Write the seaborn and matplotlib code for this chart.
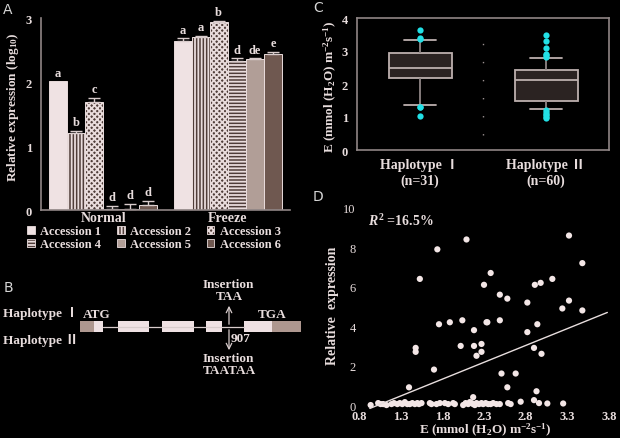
import numpy as np
import pandas as pd
import matplotlib
matplotlib.use("Agg")
import matplotlib.pyplot as plt
from matplotlib.patches import Rectangle, Patch
import seaborn as sns

# ---------------- data ----------------
# panel A: relative expression (log10)
conditions = ["Normal", "Freeze"]
accessions = ["Accession 1", "Accession 2", "Accession 3",
              "Accession 4", "Accession 5", "Accession 6"]
normal_expr = [2.01, 1.20, 1.68, 0.01, 0.02, 0.08]
freeze_expr = [2.64, 2.71, 2.93, 2.33, 2.36, 2.43]
normal_err = [0.0, 0.04, 0.07, 0.05, 0.07, 0.06]
freeze_err = [0.04, 0.01, 0.03, 0.04, 0.01, 0.035]
normal_letters = ["a", "b", "c", "d", "d", "d"]
freeze_letters = ["a", "a", "b", "d", "de", "e"]
acc_colors = ["#efe2e3", "#4f3d39", "#4f3d39", "#4f3d39", "#b19e97", "#6f5850"]
acc_hatches = ["", "|||||", "xxxxxx", "-----", "", ""]

# panel B: gene model (positions along the schematic)
utr_start = [80, 272]
utr_end = [94, 301]
exon_start = [94, 118, 162, 206, 244]
exon_end = [103, 149, 194, 222, 272]
insertion_pos = 229

# panel C: transpiration rate E per haplotype
hap1_E = [1.03, 1.30, 1.31, 1.35, 1.62, 1.85, 2.02, 2.17, 2.19, 2.25, 2.30,
          2.36, 2.40, 2.44, 2.48, 2.50, 2.55, 2.61, 2.66, 2.72, 2.80, 2.88,
          2.92, 2.94, 3.00, 3.10, 3.20, 3.32, 3.35, 3.40, 3.65]
hap2_E = [0.97, 1.00, 1.05, 1.10, 1.15, 1.20, 1.25, 1.28, 1.32, 1.36, 1.40,
          1.43, 1.46, 1.48, 1.50, 1.50, 1.55, 1.60, 1.65, 1.70, 1.75, 1.80,
          1.85, 1.90, 1.94, 1.98, 2.02, 2.06, 2.09, 2.12, 2.14, 2.16, 2.18,
          2.20, 2.22, 2.24, 2.26, 2.28, 2.30, 2.32, 2.35, 2.37, 2.39, 2.41,
          2.43, 2.43, 2.46, 2.50, 2.54, 2.58, 2.62, 2.67, 2.73, 2.80, 2.83,
          2.88, 2.92, 3.10, 3.30, 3.47]
hap_labels = ["Haplotype \u2160\n(n=31)", "Haplotype \u2161\n(n=60)"]

# panel D: E vs relative expression
scatter_E = [1.40, 1.48, 1.48, 1.53, 1.70, 1.74, 1.76, 1.89, 2.04, 2.02,
             2.09, 2.18, 2.18, 2.21, 2.27, 2.27, 2.30, 2.33, 2.34, 2.38,
             2.49, 2.49, 2.51, 2.58, 2.58, 2.68, 2.82, 2.82, 2.90, 2.91,
             2.93, 2.94, 2.98, 2.99, 3.12, 3.24, 3.32, 3.32, 3.48, 3.48,
             2.90, 2.17,
             0.94, 1.03, 1.06, 1.09, 1.13, 1.19, 1.22, 1.26, 1.29, 1.32,
             1.35, 1.38, 1.41, 1.44, 1.47, 1.50, 1.52, 1.55, 1.65, 1.67,
             1.73, 1.77, 1.83, 1.87, 1.93, 1.95, 2.05, 2.08, 2.11, 2.13,
             2.15, 2.17, 2.19, 2.21, 2.24, 2.27, 2.29, 2.32, 2.35, 2.38,
             2.41, 2.45, 2.49, 2.59, 2.62, 2.74, 2.96, 3.06, 3.25]
scatter_expr = [0.9, 2.9, 2.7, 6.4, 1.8, 7.9, 4.1, 4.2, 4.3, 3.0,
                8.4, 3.8, 3.0, 2.5, 3.1, 2.7, 6.1, 4.2, 4.2, 6.7,
                5.6, 4.3, 1.6, 5.4, 0.9, 1.6, 5.2, 3.7, 2.9, 6.1,
                0.7, 4.1, 6.2, 2.6, 6.4, 4.9, 8.6, 5.3, 7.2, 4.8,
                0.25, 0.4,
                0.0, 0.10, 0.05, 0.05, 0.0, 0.05, 0.10, 0.05, 0.10, 0.05,
                0.15, 0.05, 0.05, 0.10, 0.05, 0.10, 0.05, 0.10, 0.10, 0.05,
                0.05, 0.10, 0.10, 0.05, 0.10, 0.05, 0.0, 0.10, 0.05, 0.15,
                0.10, 0.05, 0.0, 0.10, 0.05, 0.10, 0.05, 0.10, 0.05, 0.05,
                0.10, 0.05, 0.05, 0.10, 0.05, 0.17, 0.10, 0.08, 0.08]

# ---------------- style ----------------
sns.set_style("dark", {"axes.facecolor": "black", "figure.facecolor": "black"})
TXT = "#e8dddd"
GRAY = "#8f8585"
plt.rcParams["font.family"] = ["Liberation Serif", "Noto Sans CJK SC"]
plt.rcParams["font.weight"] = "bold"
plt.rcParams["mathtext.fontset"] = "custom"
plt.rcParams["mathtext.rm"] = "Liberation Serif:bold"
plt.rcParams["mathtext.bf"] = "Liberation Serif:bold"
plt.rcParams["mathtext.it"] = "Liberation Serif:italic:bold"
plt.rcParams["text.color"] = TXT
plt.rcParams["hatch.linewidth"] = 1.3

fig = plt.figure(figsize=(6.2, 4.39), dpi=100, facecolor="black")
W, H = 620.0, 439.0


def px_axes(x0, y0, x1, y1):
    return fig.add_axes([x0 / W, 1 - y1 / H, (x1 - x0) / W, (y1 - y0) / H])


def style_ticks(ax, size=9):
    ax.tick_params(colors=GRAY, labelcolor=TXT, labelsize=size, length=3,
                   width=1, direction="out")
    for lab in ax.get_xticklabels() + ax.get_yticklabels():
        lab.set_fontweight("bold")


# ---------------- panel A ----------------
axA = px_axes(41, 19, 290, 211)
dfA = pd.DataFrame({
    "condition": np.repeat(conditions, len(accessions)),
    "accession": accessions * 2,
    "expr": normal_expr + freeze_expr,
})
sns.barplot(data=dfA, x="condition", y="expr", hue="accession",
            palette=acc_colors, saturation=1, width=0.87, gap=0,
            errorbar=None, edgecolor="#e9dcdc", linewidth=0.7,
            legend=False, ax=axA)
errs = [normal_err, freeze_err]
letters = [normal_letters, freeze_letters]
bar_containers = list(axA.containers)
for i, cont in enumerate(bar_containers):
    for j, bar in enumerate(cont.patches):
        bar.set_hatch(acc_hatches[i])
        xc = bar.get_x() + bar.get_width() / 2
        h = bar.get_height()
        e = errs[j][i]
        if e > 0:
            axA.errorbar(xc, h, yerr=[[0], [e]], color="#d9cccc", capsize=4,
                         elinewidth=1, capthick=1)
        axA.annotate(letters[j][i], (xc, h + e), xytext=(0, 2),
                     textcoords="offset points", ha="center", va="bottom",
                     fontsize=9, fontweight="bold", color=TXT)
axA.set_xlim(-0.5, 1.5)
axA.set_ylim(0, 3)
axA.set_yticks([0, 1, 2, 3])
axA.set_xlabel("")
axA.set_ylabel(r"Relative expression (log$_{10}$)", fontsize=9.5,
               fontweight="bold", color=TXT)
axA.yaxis.set_label_coords(-0.08, 0.54)
for s in ["top", "right"]:
    axA.spines[s].set_visible(False)
for s in ["left", "bottom"]:
    axA.spines[s].set_color(GRAY)
    axA.spines[s].set_linewidth(1.2)
axA.grid(False)
style_ticks(axA)
axA.tick_params(axis="x", labelsize=10, pad=-2)

handles = [Patch(facecolor=acc_colors[k], edgecolor="#e9dcdc",
                 hatch=acc_hatches[k], linewidth=0.6) for k in range(6)]
order = [0, 3, 1, 4, 2, 5]
fig.legend([handles[k] for k in order], [accessions[k] for k in order],
           ncol=3, loc="upper left", bbox_to_anchor=(16 / W, 1 - 215 / H),
           frameon=False, handlelength=0.6, handleheight=0.6,
           handletextpad=0.45, columnspacing=1.25, labelspacing=0.1,
           prop={"family": "Liberation Serif", "weight": "bold", "size": 9},
           labelcolor=TXT)

# ---------------- panel B ----------------
axB = px_axes(0, 270, 310, 400)
axB.set_xlim(0, 310)
axB.set_ylim(400, 270)
axB.axis("off")
axB.plot([exon_end[0], exon_start[-1]], [328, 328], color="#d8cccc", lw=0.9)
for a, b in zip(utr_start, utr_end):
    axB.add_patch(Rectangle((a, 322), b - a, 11, facecolor="#ae978f",
                            edgecolor="none"))
for a, b in zip(exon_start, exon_end):
    axB.add_patch(Rectangle((a, 322), b - a, 11, facecolor="#efe1e3",
                            edgecolor="none"))
axB.annotate("", xy=(insertion_pos, 304), xytext=(insertion_pos, 328),
             arrowprops=dict(arrowstyle="->", color="#d8cccc", lw=0.9))
axB.annotate("", xy=(insertion_pos, 354), xytext=(insertion_pos, 328),
             arrowprops=dict(arrowstyle="->", color="#d8cccc", lw=0.9))
tB = dict(fontsize=9.5, fontweight="bold", color=TXT, va="center")
axB.text(3, 314, "Haplotype \u2160", ha="left", **tB)
axB.text(3, 341, "Haplotype \u2161", ha="left", **tB)
axB.text(97, 315, "ATG", ha="center", **tB)
axB.text(272, 315, "TGA", ha="center", **tB)
axB.text(228, 285, "Insertion", ha="center", **tB)
axB.text(229, 297, "TAA", ha="center", **tB)
axB.text(231, 339, "907", ha="left", **tB)
axB.text(228, 359, "Insertion", ha="center", **tB)
axB.text(229, 371, "TAATAA", ha="center", **tB)

# ---------------- panel C ----------------
axC = px_axes(357, 19, 609, 151)
dfC = pd.DataFrame({
    "hap": [hap_labels[0]] * len(hap1_E) + [hap_labels[1]] * len(hap2_E),
    "E": hap1_E + hap2_E,
})
sns.boxplot(data=dfC, x="hap", y="E", whis=(10, 90), width=0.5,
            color="#2b2322", saturation=1, linecolor="#bdb0ae", linewidth=1.3,
            flierprops=dict(marker="o", markerfacecolor="#22e0e6",
                            markeredgecolor="none", markersize=4.5),
            whiskerprops=dict(color=GRAY, linewidth=1.3),
            capprops=dict(color="#bdb0ae", linewidth=1.3),
            ax=axC)
axC.vlines(0.5, 0.45, 3.5, colors="#9a9090", linestyles=(0, (1, 12)),
           linewidth=1)
axC.set_xlim(-0.5, 1.5)
axC.set_ylim(0, 4)
axC.set_yticks([0, 1, 2, 3, 4])
axC.set_xlabel("")
axC.set_ylabel(r"E (mmol (H$_2$O) m$^{-2}$s$^{-1}$)", fontsize=9.5,
               fontweight="bold", color=TXT)
axC.yaxis.set_label_coords(-0.072, 0.49)
for s in axC.spines.values():
    s.set_visible(True)
    s.set_color(GRAY)
    s.set_linewidth(1.2)
axC.grid(False)
style_ticks(axC)
axC.tick_params(axis="x", labelsize=10, pad=3)
for lab in axC.get_xticklabels():
    lab.set_linespacing(1.2)

# ---------------- panel D ----------------
axD = px_axes(359, 205, 609, 410)
axD.set_xlim(0.93, 3.78)
sns.regplot(x=np.array(scatter_E), y=np.array(scatter_expr), ci=None,
            truncate=False, ax=axD,
            scatter_kws=dict(s=20, color="#f3e6e6", edgecolors="none",
                             alpha=1),
            line_kws=dict(color="#e8dede", lw=1, clip_on=False))
axD.set_xlim(0.8, 3.8)
axD.set_ylim(-0.2, 10.2)
axD.set_xticks([0.8, 1.3, 1.8, 2.3, 2.8, 3.3, 3.8])
axD.set_xticklabels(["0.8", "1.3", "1.8", "2.3", "2.8", "3.3", "3.8"])
axD.set_yticks([0, 2, 4, 6, 8, 10])
for s in axD.spines.values():
    s.set_visible(False)
axD.grid(False)
style_ticks(axD, size=9)
axD.tick_params(axis="both", length=2, colors=TXT)
axD.tick_params(axis="x", pad=-1)
axD.tick_params(axis="y", pad=0.5)
for lab in axD.get_yticklabels():
    lab.set_fontweight("normal")
axD.set_xlabel(r"E (mmol (H$_2$O) m$^{-2}$s$^{-1}$)", fontsize=9.5,
               fontweight="bold", color=TXT)
axD.xaxis.set_label_coords(0.504, -0.06)
axD.set_ylabel("Relative  expression", fontsize=10, fontweight="bold",
               color=TXT)
axD.yaxis.set_label_coords(-0.08, 0.507)
axD.text(0.035, 0.92, r"$R^2$ =16.5%", transform=axD.transAxes, fontsize=10,
         color=TXT, ha="left", va="center")

# ---------------- panel letters ----------------
for lab, x, y in [("A", 8, 10), ("B", 8, 288), ("C", 318, 8), ("D", 318, 197)]:
    fig.text(x / W, 1 - y / H, lab, fontsize=10, color="#d6d6d6",
             family="DejaVu Sans", fontweight="normal", ha="center",
             va="center")

fig.savefig("out.png", dpi=100, facecolor="black")
